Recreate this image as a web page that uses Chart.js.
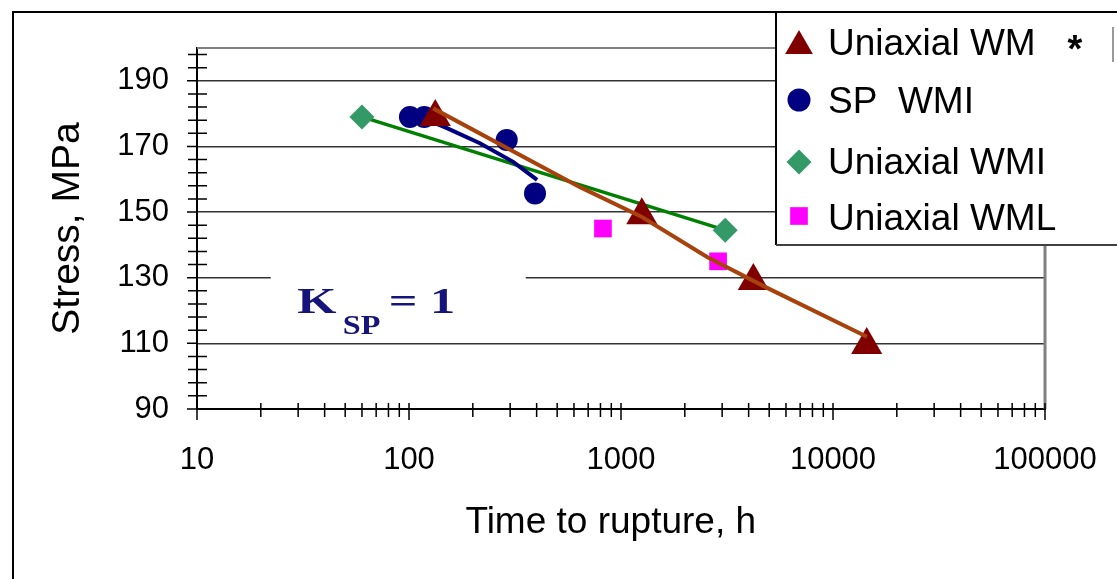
<!DOCTYPE html>
<html>
<head>
<meta charset="utf-8">
<script src="https://cdn.jsdelivr.net/npm/chart.js@4.4.1/dist/chart.umd.min.js"></script>
<style>
  html, body { margin: 0; padding: 0; background: #fff; }
  canvas { display: block; }
</style>
</head>
<body>
<canvas id="ruptureChart" width="1117" height="579"></canvas>
<script>
// ---------- data ----------
const wmTime = [133, 1254, 4210, 14420];
const wmStress = [179, 149, 129, 109.5];
const wmLineTime = [130, 641, 1256, 2547, 4890, 14450];
const wmLineStress = [181.6, 157.6, 148.5, 136.3, 126.9, 112];

const spTime = [101, 118, 289, 393];
const spStress = [179, 179, 172, 155.7];
const spLineTime = [118, 151, 216, 310, 402];
const spLineStress = [178.5, 175.6, 171, 165.3, 159.8];

const wmiTime = [60, 3100];
const wmiStress = [179, 144.5];

const wmlTime = [822, 2870];
const wmlStress = [145, 135];

const xTicks = [10, 100, 1000, 10000, 100000];
const yTicks = [90, 110, 130, 150, 170, 190];

const pts = (xs, ys) => xs.map((x, i) => ({ x: x, y: ys[i] }));

const font = (size, weight) => ({ family: '"Liberation Sans", Arial, sans-serif', size: size, weight: weight || 'normal' });

// ---------- ticks, frame and K_SP note ----------
const plotExtras = {
    id: 'plotExtras',
    beforeDatasetsDraw(chart) {
        const { ctx, chartArea: a, scales: { x, y } } = chart;
        ctx.save();

        // gray frame top / right
        ctx.strokeStyle = '#808080';
        ctx.lineWidth = 2;
        ctx.beginPath();
        ctx.moveTo(a.left, a.top);
        ctx.lineTo(a.right, a.top);
        ctx.stroke();
        ctx.lineWidth = 3;
        ctx.beginPath();
        ctx.moveTo(a.right, a.top);
        ctx.lineTo(a.right, a.bottom);
        ctx.stroke();

        // ticks crossing the axes
        ctx.strokeStyle = '#000';
        ctx.lineWidth = 1.5;
        ctx.beginPath();
        for (let v = 94; v < 200; v += 4) {
            if ((v - 90) % 20 === 0) continue;
            const py = y.getPixelForValue(v);
            ctx.moveTo(a.left - 9, py);
            ctx.lineTo(a.left + 10, py);
        }
        for (const v of yTicks) {
            const py = y.getPixelForValue(v);
            ctx.moveTo(a.left - 10, py);
            ctx.lineTo(a.left, py);
        }
        for (let d = 10; d < 100000; d *= 10) {
            for (let m = 2; m <= 9; m++) {
                const px = x.getPixelForValue(m * d);
                ctx.moveTo(px, a.bottom - 6);
                ctx.lineTo(px, a.bottom + 8);
            }
        }
        for (const v of xTicks) {
            const px = x.getPixelForValue(v);
            ctx.moveTo(px, a.bottom - 6);
            ctx.lineTo(px, a.bottom + 11);
        }
        ctx.stroke();

        // K_SP = 1 with white box over the gridline
        const x0 = x.getPixelForValue(30.2);
        const base = y.getPixelForValue(119.3);
        ctx.fillStyle = '#fff';
        ctx.fillRect(x0 - 28, base - 52, 255, 77);
        ctx.fillStyle = '#14147A';
        ctx.textBaseline = 'alphabetic';
        ctx.translate(x0, base);

        ctx.save();
        ctx.scale(1.4, 1);
        ctx.font = 'bold 36px "Liberation Serif", "Times New Roman", serif';
        ctx.fillText('K', -1, 0);
        ctx.fillText('= 1', 90 / 1.4, 0);
        ctx.restore();

        ctx.save();
        ctx.scale(1.15, 1);
        ctx.font = 'bold 28px "Liberation Serif", "Times New Roman", serif';
        ctx.fillText('SP', 44 / 1.15, 21);
        ctx.restore();

        ctx.restore();
    },
    afterDraw(chart) {
        const ctx = chart.ctx;
        ctx.save();

        // outer frame
        ctx.strokeStyle = '#000';
        ctx.lineWidth = 2;
        ctx.beginPath();
        ctx.moveTo(13, 579);
        ctx.lineTo(13, 12);
        ctx.lineTo(1117, 12);
        ctx.stroke();

        // legend box
        ctx.fillStyle = '#fff';
        ctx.fillRect(776, 12, 345, 233);
        ctx.beginPath();
        ctx.moveTo(776, 245);
        ctx.lineTo(776, 12);
        ctx.lineTo(1117, 12);
        ctx.stroke();
        ctx.strokeStyle = '#404040';
        ctx.beginPath();
        ctx.moveTo(776, 245);
        ctx.lineTo(1117, 245);
        ctx.stroke();

        const rows = [
            { y: 46, ty: 55 },
            { y: 100, ty: 113 },
            { y: 162, ty: 174 },
            { y: 216, ty: 230 }
        ];
        const items = chart.data.datasets
            .filter(ds => ds.inLegend)
            .sort((a, b) => a.legendOrder - b.legendOrder);
        ctx.font = '37px "Liberation Sans", Arial, sans-serif';
        ctx.textBaseline = 'alphabetic';
        items.forEach((ds, i) => {
            const r = rows[i];
            ctx.fillStyle = ds.pointBackgroundColor;
            ctx.strokeStyle = ds.pointBackgroundColor;
            Chart.helpers.drawPoint(ctx, {
                pointStyle: ds.pointStyle,
                radius: ds.legendRadius,
                rotation: 0,
                borderWidth: 0
            }, 799, r.y);
            ctx.fillStyle = '#000';
            ctx.fillText(ds.label, 828, r.ty);
        });

        ctx.font = 'bold 38px "Liberation Sans", Arial, sans-serif';
        ctx.textAlign = 'center';
        ctx.fillText('*', 1075, 62);
        ctx.strokeStyle = '#777';
        ctx.lineWidth = 1.5;
        ctx.beginPath();
        ctx.moveTo(1113, 27);
        ctx.lineTo(1113, 62);
        ctx.stroke();
        ctx.restore();
    }
};

new Chart(document.getElementById('ruptureChart'), {
    type: 'scatter',
    data: {
        datasets: [
            {
                label: 'wm line',
                data: pts(wmLineTime, wmLineStress),
                showLine: true,
                borderColor: '#A8420C',
                borderWidth: 4,
                pointRadius: 0
            },
            {
                label: 'Uniaxial WM',
                inLegend: true,
                legendOrder: 0,
                data: pts(wmTime, wmStress),
                showLine: false,
                pointStyle: 'triangle',
                pointRadius: 18,
                legendRadius: 16,
                pointBackgroundColor: '#800000',
                pointBorderWidth: 0
            },
            {
                label: 'sp line',
                data: pts(spLineTime, spLineStress),
                showLine: true,
                borderColor: '#000080',
                borderWidth: 4,
                pointRadius: 0
            },
            {
                label: 'Uniaxial WMI',
                inLegend: true,
                legendOrder: 2,
                data: pts(wmiTime, wmiStress),
                showLine: true,
                borderColor: '#008000',
                borderWidth: 3.5,
                pointStyle: 'rectRot',
                pointRadius: 12.5,
                legendRadius: 12.5,
                pointBackgroundColor: '#339966',
                pointBorderWidth: 0
            },
            {
                label: 'SP  WMI',
                inLegend: true,
                legendOrder: 1,
                data: pts(spTime, spStress),
                showLine: false,
                pointStyle: 'circle',
                pointRadius: 11,
                legendRadius: 11.5,
                pointBackgroundColor: '#000080',
                pointBorderWidth: 0
            },
            {
                label: 'Uniaxial WML',
                inLegend: true,
                legendOrder: 3,
                data: pts(wmlTime, wmlStress),
                showLine: false,
                pointStyle: 'rect',
                pointRadius: 12.5,
                legendRadius: 12.5,
                pointBackgroundColor: '#FF00FF',
                pointBorderWidth: 0
            }
        ]
    },
    options: {
        responsive: false,
        animation: false,
        events: [],
        layout: { padding: { top: 48, right: 72, left: 0, bottom: 0 } },
        plugins: {
            legend: { display: false },
            tooltip: { enabled: false }
        },
        scales: {
            x: {
                type: 'logarithmic',
                min: 10,
                max: 100000,
                afterBuildTicks: s => { s.ticks = xTicks.map(v => ({ value: v })); },
                afterFit: s => {
                    s.height = 170;
                    s.paddingLeft = 0;
                    s.paddingRight = 0;
                },
                ticks: {
                    font: font(31),
                    color: '#000',
                    padding: 33,
                    autoSkip: false,
                    maxRotation: 0,
                    callback: v => String(v)
                },
                grid: { drawOnChartArea: false, drawTicks: false },
                border: { color: '#000', width: 2 },
                title: {
                    display: true,
                    text: 'Time to rupture, h  ',
                    font: font(37),
                    color: '#000',
                    padding: { top: 0, bottom: 34 }
                }
            },
            y: {
                min: 90,
                max: 200,
                afterBuildTicks: s => { s.ticks = yTicks.map(v => ({ value: v })); },
                afterFit: s => {
                    s.width = 197;
                    s.paddingTop = 0;
                    s.paddingBottom = 0;
                },
                ticks: {
                    font: font(31),
                    color: '#000',
                    padding: 28,
                    callback: v => String(v)
                },
                grid: {
                    drawTicks: false,
                    lineWidth: 1.5,
                    color: c => (c.tick && c.tick.value === 90) ? 'rgba(0,0,0,0)' : '#333'
                },
                border: { color: '#000', width: 2 },
                title: {
                    display: true,
                    text: 'Stress, MPa',
                    font: font(39),
                    color: '#000',
                    padding: { top: 45, bottom: 0 }
                }
            }
        }
    },
    plugins: [plotExtras]
});
</script>
</body>
</html>
